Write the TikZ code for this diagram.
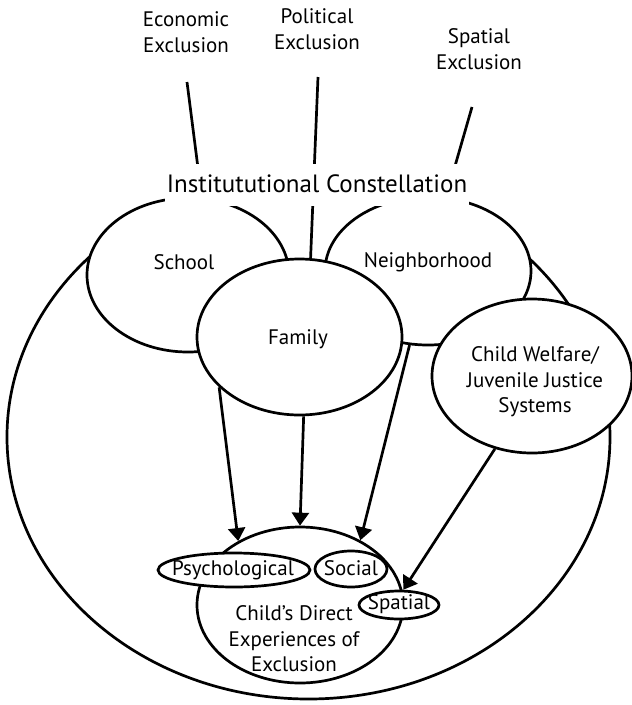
\documentclass[tikz,border=0pt]{standalone}
\usepackage{fontspec}
\setmainfont{PT Sans}
\usetikzlibrary{shapes.geometric,arrows.meta}
\begin{document}
\begin{tikzpicture}[x=1pt,y=1pt,
  lbl/.style={font=\fontsize{21}{25.5}\selectfont, align=center, inner sep=0pt},
  ring/.style={ellipse, draw, line width=2.7pt, fill=white, inner sep=0pt},
  link/.style={line width=2.7pt},
  arr/.style={line width=2.7pt, -{Triangle[length=13pt,width=17pt]}}]
\useasboundingbox (0,0) rectangle (632,-705);

% outer boundary of the institutional constellation
\node[ring, fill=none, minimum width=603pt, minimum height=524pt] (outer) at (308.5,-437) {};

% institutions
\node[ring, minimum width=202pt, minimum height=154pt] (school) at (188,-275) {};
\node[ring, minimum width=206pt, minimum height=148pt] (hood) at (428,-271) {};
\node[ring, minimum width=205pt, minimum height=156pt] (family) at (299.5,-337) {};
\node[ring, minimum width=200pt, minimum height=154pt] (cw) at (532,-376) {};

\node[lbl] (schooltxt) at (184,-262) {School};
\node[lbl] (hoodtxt) at (428,-262) {Neighborhood};
\node[lbl] (familytxt) at (298,-339) {Family};
\node[lbl] (cwtxt) at (535,-382) {Child Welfare/\\Juvenile Justice\\Systems};

% forms of exclusion
\node[lbl] (econ) at (186,-32) {Economic\\Exclusion};
\node[lbl] (pol) at (317,-29) {Political\\Exclusion};
\node[lbl] (spat) at (479,-49) {Spatial\\Exclusion};

\coordinate (econA) at (187,-82);
\coordinate (econB) at (198,-168);
\coordinate (polA) at (318,-77);
\coordinate (spatA) at (472,-107);
\coordinate (spatB) at (453,-173);

\draw[link] (econA) -- (econB);
\draw[link] (polA) -- (family.82);
\draw[link] (spatA) -- (spatB);

\node[font=\fontsize{25}{30}\selectfont, fill=white, inner xsep=2pt, inner ysep=13pt,
  text height=16pt, text depth=0pt] (inst) at (317,-184.5) {Institututional Constellation};

% the child's own experience
\node[ring, minimum width=206pt, minimum height=156pt] (child) at (300,-605) {};
\node[lbl] (childtxt) at (294,-639) {Child’s Direct\\Experiences of\\Exclusion};
\node[ring, minimum width=152pt, minimum height=34pt] (psy) at (234,-570) {};
\node[ring, minimum width=72pt, minimum height=36pt] (soc) at (351,-569) {};
\node[ring, minimum width=80pt, minimum height=28pt] (spa) at (399,-605) {};
\node[lbl] (psytxt) at (233,-570) {Psychological};
\node[lbl] (soctxt) at (351,-568) {Social};
\node[lbl] (spatxt) at (399,-604) {Spatial};

% influences
\draw[arr] (family.212) -- (child.134);
\draw[arr] (family.273) -- (child.90);
\draw[arr] (hood.256) -- (child.47);
\draw[arr] (cw.243) -- (spa.74);
\end{tikzpicture}
\end{document}
